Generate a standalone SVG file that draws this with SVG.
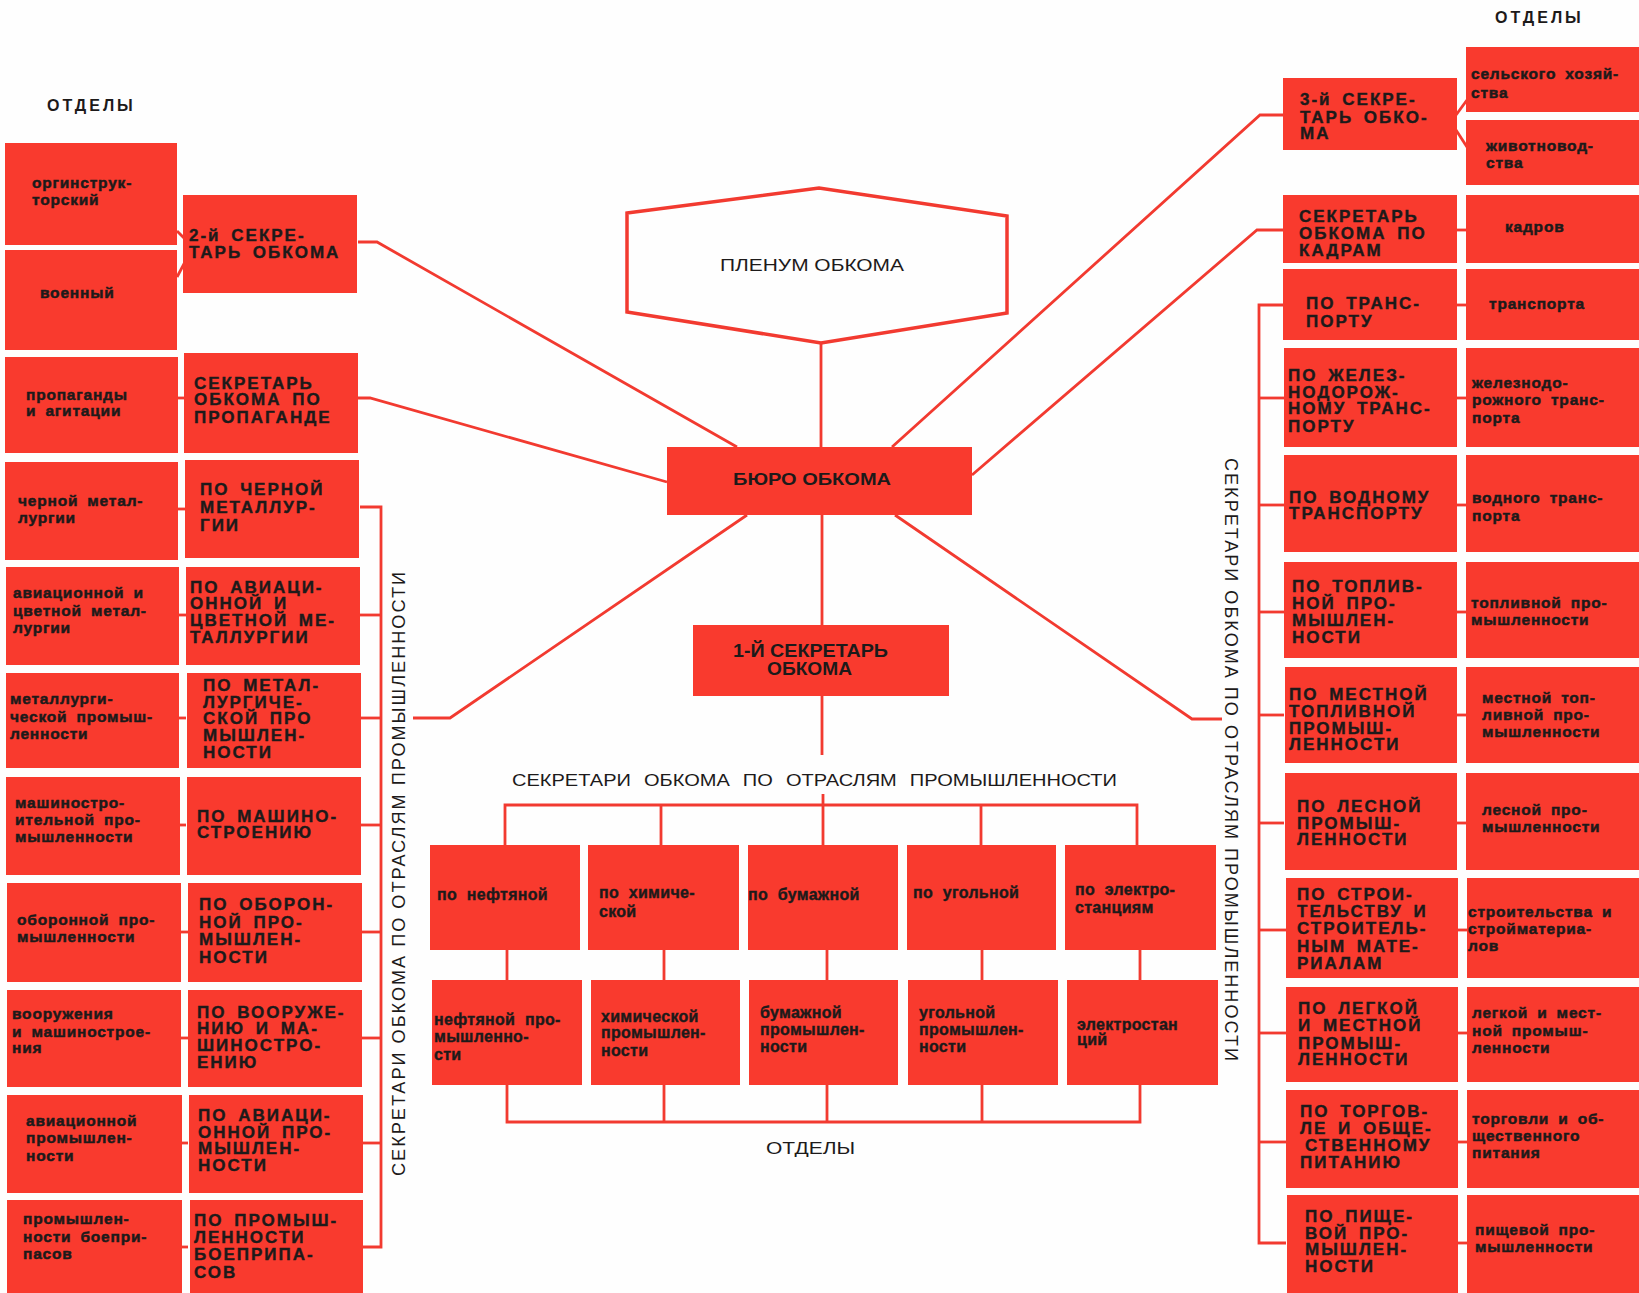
<svg xmlns="http://www.w3.org/2000/svg" width="1639" height="1293" viewBox="0 0 1639 1293">
<style>
.box{fill:#f93a2e}
.ln{stroke:#f23a30;stroke-width:2.8;fill:none}
text{font-family:"Liberation Sans","DejaVu Sans",sans-serif;fill:#1d1a1a}
.dep{font-size:15.5px;font-weight:bold;letter-spacing:0.8px;word-spacing:4px;stroke:#1d1a1a;stroke-width:0.5px}
.sec{font-size:17px;font-weight:bold;letter-spacing:2px;word-spacing:4px;stroke:#1d1a1a;stroke-width:0.4px}
.ctr{font-size:16px;font-weight:bold;letter-spacing:0.3px;word-spacing:5px;stroke:#1d1a1a;stroke-width:0.4px}
.lab{font-size:16px;font-weight:bold;letter-spacing:3px}
.vt{font-size:18px;letter-spacing:2px}
</style>
<rect width="1639" height="1293" fill="#fefefe"/>

<g id="connectors">
<polyline class="ln" points="358,242 377,242 737,447"/>
<polyline class="ln" points="358,398 370,398 667,482"/>
<polyline class="ln" points="1283,115 1260,115 892,447"/>
<polyline class="ln" points="1283,230 1257,230 972,475"/>
<polyline class="ln" points="747,515 450,718 413,718"/>
<polyline class="ln" points="895,515 1192,719 1222,719"/>
<line class="ln" x1="821" y1="343" x2="821" y2="447"/>
<line class="ln" x1="822" y1="515" x2="822" y2="625"/>
<line class="ln" x1="822" y1="696" x2="822" y2="755"/>
<line class="ln" x1="823" y1="794" x2="823" y2="805"/>
<polyline class="ln" points="505,845 505,805 1137,805 1137,845"/>
<line class="ln" x1="661" y1="805" x2="661" y2="845"/>
<line class="ln" x1="823" y1="805" x2="823" y2="845"/>
<line class="ln" x1="981" y1="805" x2="981" y2="845"/>
<line class="ln" x1="507" y1="950" x2="507" y2="980"/>
<line class="ln" x1="664" y1="950" x2="664" y2="980"/>
<line class="ln" x1="827" y1="950" x2="827" y2="980"/>
<line class="ln" x1="982" y1="950" x2="982" y2="980"/>
<line class="ln" x1="1140" y1="950" x2="1140" y2="980"/>
<polyline class="ln" points="507,1085 507,1122 1140,1122 1140,1085"/>
<line class="ln" x1="664" y1="1085" x2="664" y2="1122"/>
<line class="ln" x1="827" y1="1085" x2="827" y2="1122"/>
<line class="ln" x1="982" y1="1085" x2="982" y2="1122"/>
<polyline class="ln" points="360,507 381,507 381,1247 362,1247"/>
<line class="ln" x1="360" y1="615" x2="381" y2="615"/>
<line class="ln" x1="360" y1="718" x2="381" y2="718"/>
<line class="ln" x1="360" y1="825" x2="381" y2="825"/>
<line class="ln" x1="360" y1="932" x2="381" y2="932"/>
<line class="ln" x1="360" y1="1038" x2="381" y2="1038"/>
<line class="ln" x1="360" y1="1143" x2="381" y2="1143"/>
<line class="ln" x1="177" y1="231" x2="185" y2="239"/>
<line class="ln" x1="177" y1="277" x2="185" y2="262"/>
<line class="ln" x1="177" y1="398" x2="186" y2="398"/>
<line class="ln" x1="177" y1="509" x2="186" y2="509"/>
<line class="ln" x1="177" y1="615" x2="186" y2="615"/>
<line class="ln" x1="177" y1="718" x2="186" y2="718"/>
<line class="ln" x1="177" y1="825" x2="186" y2="825"/>
<line class="ln" x1="177" y1="932" x2="188" y2="932"/>
<line class="ln" x1="177" y1="1038" x2="188" y2="1038"/>
<line class="ln" x1="177" y1="1143" x2="188" y2="1143"/>
<line class="ln" x1="177" y1="1247" x2="188" y2="1247"/>
<polyline class="ln" points="1284,305 1259,305 1259,1243 1286,1243"/>
<line class="ln" x1="1259" y1="398" x2="1284" y2="398"/>
<line class="ln" x1="1259" y1="505" x2="1284" y2="505"/>
<line class="ln" x1="1259" y1="612" x2="1284" y2="612"/>
<line class="ln" x1="1259" y1="715" x2="1284" y2="715"/>
<line class="ln" x1="1259" y1="823" x2="1284" y2="823"/>
<line class="ln" x1="1259" y1="930" x2="1286" y2="930"/>
<line class="ln" x1="1259" y1="1033" x2="1286" y2="1033"/>
<line class="ln" x1="1259" y1="1142" x2="1286" y2="1142"/>
<line class="ln" x1="1456" y1="115" x2="1467" y2="100"/>
<line class="ln" x1="1456" y1="130" x2="1467" y2="147"/>
<line class="ln" x1="1456" y1="230" x2="1467" y2="230"/>
<line class="ln" x1="1456" y1="305" x2="1467" y2="305"/>
<line class="ln" x1="1456" y1="398" x2="1467" y2="398"/>
<line class="ln" x1="1456" y1="505" x2="1467" y2="505"/>
<line class="ln" x1="1456" y1="612" x2="1467" y2="612"/>
<line class="ln" x1="1456" y1="715" x2="1467" y2="715"/>
<line class="ln" x1="1456" y1="823" x2="1467" y2="823"/>
<line class="ln" x1="1456" y1="930" x2="1467" y2="930"/>
<line class="ln" x1="1456" y1="1033" x2="1467" y2="1033"/>
<line class="ln" x1="1456" y1="1142" x2="1467" y2="1142"/>
<line class="ln" x1="1456" y1="1243" x2="1467" y2="1243"/>
</g>

<text class="lab" x="47" y="111">ОТДЕЛЫ</text>
<text class="lab" x="1495" y="23">ОТДЕЛЫ</text>
<text x="766" y="1154" font-size="16" textLength="89" lengthAdjust="spacingAndGlyphs">ОТДЕЛЫ</text>
<text x="512" y="786" font-size="16" textLength="605" lengthAdjust="spacingAndGlyphs" word-spacing="6">СЕКРЕТАРИ ОБКОМА ПО ОТРАСЛЯМ ПРОМЫШЛЕННОСТИ</text>
<text class="vt" transform="translate(405,1176) rotate(-90)" textLength="606" lengthAdjust="spacingAndGlyphs">СЕКРЕТАРИ ОБКОМА ПО ОТРАСЛЯМ ПРОМЫШЛЕННОСТИ</text>
<text class="vt" transform="translate(1225,458) rotate(90)" textLength="605" lengthAdjust="spacingAndGlyphs">СЕКРЕТАРИ ОБКОМА ПО ОТРАСЛЯМ ПРОМЫШЛЕННОСТИ</text>

<g id="plenum">
<polygon points="627,213 819,188 1007,216 1007,313 821,343 627,312" fill="none" stroke="#f23a30" stroke-width="3.5"/>
<text x="720" y="271" font-size="16" textLength="184" lengthAdjust="spacingAndGlyphs">ПЛЕНУМ ОБКОМА</text>
</g>
<g id="buro">
<rect class="box" x="667" y="447" width="305" height="68"/>
<text x="733" y="485" font-size="17" font-weight="bold" textLength="158" lengthAdjust="spacingAndGlyphs">БЮРО ОБКОМА</text>
</g>
<g id="sec1">
<rect class="box" x="693" y="625" width="256" height="71"/>
<text x="733" y="657" font-size="18" font-weight="bold" textLength="155" lengthAdjust="spacingAndGlyphs">1-Й СЕКРЕТАРЬ</text>
<text x="767" y="675" font-size="18" font-weight="bold" textLength="85" lengthAdjust="spacingAndGlyphs">ОБКОМА</text>
</g>

<g id="c-neft"><rect class="box" x="430" y="845" width="150" height="105"/><text class="ctr" x="437" y="900">по нефтяной</text></g>
<g id="c-chem"><rect class="box" x="588" y="845" width="151" height="105"/><text class="ctr" x="599" y="898">по химиче-</text><text class="ctr" x="599" y="917">ской</text></g>
<g id="c-bum"><rect class="box" x="748" y="845" width="150" height="105"/><text class="ctr" x="748" y="900">по бумажной</text></g>
<g id="c-ugol"><rect class="box" x="907" y="845" width="149" height="105"/><text class="ctr" x="913" y="898">по угольной</text></g>
<g id="c-elec"><rect class="box" x="1065" y="845" width="151" height="105"/><text class="ctr" x="1075" y="895">по электро-</text><text class="ctr" x="1075" y="913">станциям</text></g>

<g id="d-neft"><rect class="box" x="432" y="980" width="150" height="105"/><text class="ctr" x="434" y="1025">нефтяной про-</text><text class="ctr" x="434" y="1042">мышленно-</text><text class="ctr" x="434" y="1060">сти</text></g>
<g id="d-chem"><rect class="box" x="591" y="980" width="149" height="105"/><text class="ctr" x="601" y="1022">химической</text><text class="ctr" x="601" y="1038">промышлен-</text><text class="ctr" x="601" y="1056">ности</text></g>
<g id="d-bum"><rect class="box" x="749" y="980" width="149" height="105"/><text class="ctr" x="760" y="1018">бумажной</text><text class="ctr" x="760" y="1035">промышлен-</text><text class="ctr" x="760" y="1052">ности</text></g>
<g id="d-ugol"><rect class="box" x="908" y="980" width="150" height="105"/><text class="ctr" x="919" y="1018">угольной</text><text class="ctr" x="919" y="1035">промышлен-</text><text class="ctr" x="919" y="1052">ности</text></g>
<g id="d-elec"><rect class="box" x="1067" y="980" width="151" height="105"/><text class="ctr" x="1077" y="1030">электростан</text><text class="ctr" x="1077" y="1045">ций</text></g>

<g id="l-org"><rect class="box" x="5" y="143" width="172" height="102"/><text class="dep" x="32" y="188">оргинструк-</text><text class="dep" x="32" y="205">торский</text></g>
<g id="l-voen"><rect class="box" x="5" y="250" width="172" height="100"/><text class="dep" x="40" y="298">военный</text></g>
<g id="s-2"><rect class="box" x="183" y="195" width="174" height="98"/><text class="sec" x="189" y="241">2-й СЕКРЕ-</text><text class="sec" x="189" y="258">ТАРЬ ОБКОМА</text></g>
<g id="l-prop"><rect class="box" x="5" y="357" width="173" height="96"/><text class="dep" x="26" y="400">пропаганды</text><text class="dep" x="26" y="416">и агитации</text></g>
<g id="s-prop"><rect class="box" x="184" y="353" width="174" height="100"/><text class="sec" x="194" y="389">СЕКРЕТАРЬ</text><text class="sec" x="194" y="405">ОБКОМА ПО</text><text class="sec" x="194" y="423">ПРОПАГАНДЕ</text></g>
<g id="l-cher"><rect class="box" x="5" y="462" width="173" height="98"/><text class="dep" x="18" y="506">черной метал-</text><text class="dep" x="18" y="523">лургии</text></g>
<g id="s-cher"><rect class="box" x="185" y="460" width="174" height="98"/><text class="sec" x="200" y="495">ПО ЧЕРНОЙ</text><text class="sec" x="200" y="513">МЕТАЛЛУР-</text><text class="sec" x="200" y="531">ГИИ</text></g>
<g id="l-avc"><rect class="box" x="6" y="567" width="173" height="98"/><text class="dep" x="13" y="598">авиационной и</text><text class="dep" x="13" y="616">цветной метал-</text><text class="dep" x="13" y="633">лургии</text></g>
<g id="s-avc"><rect class="box" x="186" y="567" width="174" height="98"/><text class="sec" x="190" y="593">ПО АВИАЦИ-</text><text class="sec" x="190" y="609">ОННОЙ И</text><text class="sec" x="190" y="626">ЦВЕТНОЙ МЕ-</text><text class="sec" x="190" y="643">ТАЛЛУРГИИ</text></g>
<g id="l-met"><rect class="box" x="6" y="673" width="173" height="95"/><text class="dep" x="10" y="704">металлурги-</text><text class="dep" x="10" y="722">ческой промыш-</text><text class="dep" x="10" y="739">ленности</text></g>
<g id="s-met"><rect class="box" x="187" y="673" width="174" height="95"/><text class="sec" x="203" y="691">ПО МЕТАЛ-</text><text class="sec" x="203" y="708">ЛУРГИЧЕ-</text><text class="sec" x="203" y="724">СКОЙ ПРО</text><text class="sec" x="203" y="741">МЫШЛЕН-</text><text class="sec" x="203" y="758">НОСТИ</text></g>
<g id="l-mash"><rect class="box" x="6" y="777" width="174" height="98"/><text class="dep" x="15" y="808">машиностро-</text><text class="dep" x="15" y="825">ительной про-</text><text class="dep" x="15" y="842">мышленности</text></g>
<g id="s-mash"><rect class="box" x="187" y="777" width="174" height="98"/><text class="sec" x="197" y="822">ПО МАШИНО-</text><text class="sec" x="197" y="838">СТРОЕНИЮ</text></g>
<g id="l-obor"><rect class="box" x="7" y="883" width="174" height="99"/><text class="dep" x="17" y="925">оборонной про-</text><text class="dep" x="17" y="942">мышленности</text></g>
<g id="s-obor"><rect class="box" x="188" y="883" width="174" height="99"/><text class="sec" x="199" y="910">ПО ОБОРОН-</text><text class="sec" x="199" y="928">НОЙ ПРО-</text><text class="sec" x="199" y="945">МЫШЛЕН-</text><text class="sec" x="199" y="963">НОСТИ</text></g>
<g id="l-voor"><rect class="box" x="7" y="990" width="174" height="97"/><text class="dep" x="12" y="1019">вооружения</text><text class="dep" x="12" y="1037">и машинострое-</text><text class="dep" x="12" y="1053">ния</text></g>
<g id="s-voor"><rect class="box" x="188" y="990" width="174" height="97"/><text class="sec" x="197" y="1018">ПО ВООРУЖЕ-</text><text class="sec" x="197" y="1034">НИЮ И МА-</text><text class="sec" x="197" y="1051">ШИНОСТРО-</text><text class="sec" x="197" y="1068">ЕНИЮ</text></g>
<g id="l-avp"><rect class="box" x="7" y="1095" width="175" height="98"/><text class="dep" x="26" y="1126">авиационной</text><text class="dep" x="26" y="1143">промышлен-</text><text class="dep" x="26" y="1161">ности</text></g>
<g id="s-avp"><rect class="box" x="189" y="1095" width="174" height="98"/><text class="sec" x="198" y="1121">ПО АВИАЦИ-</text><text class="sec" x="198" y="1138">ОННОЙ ПРО-</text><text class="sec" x="198" y="1154">МЫШЛЕН-</text><text class="sec" x="198" y="1171">НОСТИ</text></g>
<g id="l-boep"><rect class="box" x="7" y="1200" width="175" height="100"/><text class="dep" x="23" y="1224">промышлен-</text><text class="dep" x="23" y="1242">ности боепри-</text><text class="dep" x="23" y="1259">пасов</text></g>
<g id="s-boep"><rect class="box" x="190" y="1200" width="173" height="100"/><text class="sec" x="194" y="1226">ПО ПРОМЫШ-</text><text class="sec" x="194" y="1243">ЛЕННОСТИ</text><text class="sec" x="194" y="1260">БОЕПРИПА-</text><text class="sec" x="194" y="1278">СОВ</text></g>

<g id="s-3"><rect class="box" x="1283" y="78" width="174" height="72"/><text class="sec" x="1300" y="105">3-й СЕКРЕ-</text><text class="sec" x="1300" y="123">ТАРЬ ОБКО-</text><text class="sec" x="1300" y="139">МА</text></g>
<g id="r-selh"><rect class="box" x="1466" y="47" width="175" height="65"/><text class="dep" x="1471" y="79">сельского хозяй-</text><text class="dep" x="1471" y="98">ства</text></g>
<g id="r-zhiv"><rect class="box" x="1466" y="120" width="175" height="65"/><text class="dep" x="1486" y="151">животновод-</text><text class="dep" x="1486" y="168">ства</text></g>
<g id="s-kadr"><rect class="box" x="1283" y="195" width="174" height="68"/><text class="sec" x="1299" y="222">СЕКРЕТАРЬ</text><text class="sec" x="1299" y="239">ОБКОМА ПО</text><text class="sec" x="1299" y="256">КАДРАМ</text></g>
<g id="r-kadr"><rect class="box" x="1466" y="195" width="175" height="68"/><text class="dep" x="1505" y="232">кадров</text></g>
<g id="s-trans"><rect class="box" x="1283" y="269" width="174" height="71"/><text class="sec" x="1306" y="309">ПО ТРАНС-</text><text class="sec" x="1306" y="327">ПОРТУ</text></g>
<g id="r-trans"><rect class="box" x="1466" y="269" width="175" height="71"/><text class="dep" x="1489" y="309">транспорта</text></g>
<g id="s-zhel"><rect class="box" x="1284" y="348" width="173" height="99"/><text class="sec" x="1288" y="381">ПО ЖЕЛЕЗ-</text><text class="sec" x="1288" y="398">НОДОРОЖ-</text><text class="sec" x="1288" y="414">НОМУ ТРАНС-</text><text class="sec" x="1288" y="432">ПОРТУ</text></g>
<g id="r-zhel"><rect class="box" x="1466" y="348" width="175" height="99"/><text class="dep" x="1472" y="388">железнодо-</text><text class="dep" x="1472" y="405">рожного транс-</text><text class="dep" x="1472" y="423">порта</text></g>
<g id="s-vod"><rect class="box" x="1284" y="455" width="173" height="97"/><text class="sec" x="1289" y="503">ПО ВОДНОМУ</text><text class="sec" x="1289" y="519">ТРАНСПОРТУ</text></g>
<g id="r-vod"><rect class="box" x="1466" y="455" width="175" height="97"/><text class="dep" x="1472" y="503">водного транс-</text><text class="dep" x="1472" y="521">порта</text></g>
<g id="s-topl"><rect class="box" x="1284" y="562" width="173" height="96"/><text class="sec" x="1292" y="592">ПО ТОПЛИВ-</text><text class="sec" x="1292" y="609">НОЙ ПРО-</text><text class="sec" x="1292" y="626">МЫШЛЕН-</text><text class="sec" x="1292" y="643">НОСТИ</text></g>
<g id="r-topl"><rect class="box" x="1466" y="562" width="175" height="96"/><text class="dep" x="1471" y="608">топливной про-</text><text class="dep" x="1471" y="625">мышленности</text></g>
<g id="s-mest"><rect class="box" x="1285" y="667" width="172" height="96"/><text class="sec" x="1289" y="700">ПО МЕСТНОЙ</text><text class="sec" x="1289" y="717">ТОПЛИВНОЙ</text><text class="sec" x="1289" y="734">ПРОМЫШ-</text><text class="sec" x="1289" y="750">ЛЕННОСТИ</text></g>
<g id="r-mest"><rect class="box" x="1466" y="667" width="175" height="96"/><text class="dep" x="1482" y="703">местной топ-</text><text class="dep" x="1482" y="720">ливной про-</text><text class="dep" x="1482" y="737">мышленности</text></g>
<g id="s-les"><rect class="box" x="1285" y="773" width="172" height="97"/><text class="sec" x="1297" y="812">ПО ЛЕСНОЙ</text><text class="sec" x="1297" y="829">ПРОМЫШ-</text><text class="sec" x="1297" y="845">ЛЕННОСТИ</text></g>
<g id="r-les"><rect class="box" x="1466" y="773" width="175" height="97"/><text class="dep" x="1482" y="815">лесной про-</text><text class="dep" x="1482" y="832">мышленности</text></g>
<g id="s-stroi"><rect class="box" x="1286" y="878" width="172" height="100"/><text class="sec" x="1297" y="900">ПО СТРОИ-</text><text class="sec" x="1297" y="917">ТЕЛЬСТВУ И</text><text class="sec" x="1297" y="934">СТРОИТЕЛЬ-</text><text class="sec" x="1297" y="952">НЫМ МАТЕ-</text><text class="sec" x="1297" y="969">РИАЛАМ</text></g>
<g id="r-stroi"><rect class="box" x="1467" y="878" width="174" height="100"/><text class="dep" x="1468" y="917">строительства и</text><text class="dep" x="1468" y="934">стройматериа-</text><text class="dep" x="1468" y="951">лов</text></g>
<g id="s-legk"><rect class="box" x="1286" y="987" width="172" height="95"/><text class="sec" x="1298" y="1014">ПО ЛЕГКОЙ</text><text class="sec" x="1298" y="1031">И МЕСТНОЙ</text><text class="sec" x="1298" y="1049">ПРОМЫШ-</text><text class="sec" x="1298" y="1065">ЛЕННОСТИ</text></g>
<g id="r-legk"><rect class="box" x="1467" y="987" width="174" height="95"/><text class="dep" x="1472" y="1018">легкой и мест-</text><text class="dep" x="1472" y="1036">ной промыш-</text><text class="dep" x="1472" y="1053">ленности</text></g>
<g id="s-torg"><rect class="box" x="1286" y="1090" width="172" height="98"/><text class="sec" x="1300" y="1117">ПО ТОРГОВ-</text><text class="sec" x="1300" y="1134">ЛЕ И ОБЩЕ-</text><text class="sec" x="1305" y="1151">СТВЕННОМУ</text><text class="sec" x="1300" y="1168">ПИТАНИЮ</text></g>
<g id="r-torg"><rect class="box" x="1467" y="1090" width="174" height="98"/><text class="dep" x="1472" y="1124">торговли и об-</text><text class="dep" x="1472" y="1141">щественного</text><text class="dep" x="1472" y="1158">питания</text></g>
<g id="s-pish"><rect class="box" x="1287" y="1195" width="171" height="105"/><text class="sec" x="1305" y="1222">ПО ПИЩЕ-</text><text class="sec" x="1305" y="1239">ВОЙ ПРО-</text><text class="sec" x="1305" y="1255">МЫШЛЕН-</text><text class="sec" x="1305" y="1272">НОСТИ</text></g>
<g id="r-pish"><rect class="box" x="1467" y="1195" width="174" height="105"/><text class="dep" x="1475" y="1235">пищевой про-</text><text class="dep" x="1475" y="1252">мышленности</text></g>
</svg>
